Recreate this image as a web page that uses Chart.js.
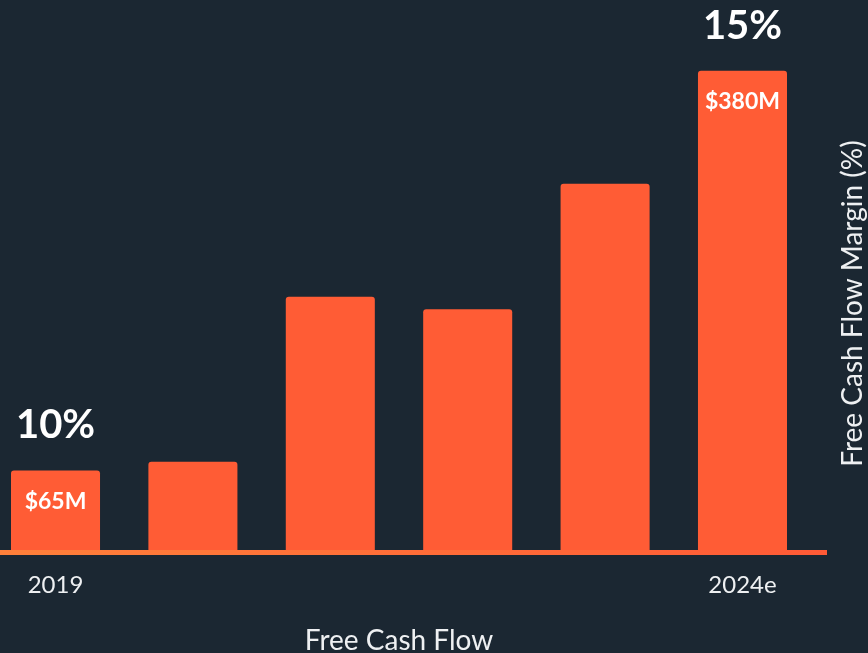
<!DOCTYPE html>
<html>
<head>
<meta charset="utf-8">
<script src="https://cdn.jsdelivr.net/npm/chart.js@4.4.1/dist/chart.umd.min.js"></script>
<style>
  html, body { margin: 0; padding: 0; background: #1b2732; }
  #wrap { width: 868px; height: 653px; }
</style>
</head>
<body>
<div id="wrap"><canvas id="fcf"></canvas></div>
<script>
const years = ['2019', '2020', '2021', '2022', '2023', '2024e'];
const freeCashFlow = [65, 72, 202, 192, 291, 380];   // $M
const fcfMargin = [10, null, null, null, null, 15];  // %
const shownTicks = [0, 5];

const ORANGE = '#ff5c35';
const TEXT = '#eef0f2';
const FONT = 'Lato, "Open Sans", sans-serif';

// baseline under the bars, a little wider than the plot area
const baseline = {
  id: 'baseline',
  afterDatasetsDraw(chart) {
    const { ctx, chartArea, scales } = chart;
    const y = scales.y.getPixelForValue(0) - 0.5;
    const x0 = 0, x1 = chartArea.right + 40;
    const g = ctx.createLinearGradient(x0, 0, x1, 0);
    g.addColorStop(0, '#ff803a');
    g.addColorStop(1, '#ff5a36');
    ctx.save();
    ctx.strokeStyle = g;
    ctx.lineWidth = 5;
    ctx.beginPath();
    ctx.moveTo(x0, y);
    ctx.lineTo(x1, y);
    ctx.stroke();
    ctx.restore();
  }
};

// margin above and FCF value inside the labelled bars
const barLabels = {
  id: 'barLabels',
  afterDatasetsDraw(chart) {
    const { ctx } = chart;
    const bars = chart.getDatasetMeta(0).data;
    ctx.save();
    ctx.fillStyle = '#ffffff';
    ctx.textAlign = 'center';
    ctx.textBaseline = 'middle';
    bars.forEach((bar, i) => {
      if (fcfMargin[i] == null) return;
      ctx.font = 'bold 40px ' + FONT;
      ctx.fillText(fcfMargin[i] + '%', bar.x, bar.y - 45);
      ctx.font = 'bold 23px ' + FONT;
      ctx.fillText('$' + freeCashFlow[i] + 'M', bar.x, bar.y + 31);
    });
    ctx.restore();
  }
};

// right-hand axis caption, reading bottom to top
const marginTitle = {
  id: 'marginTitle',
  afterDraw(chart) {
    const { ctx, chartArea } = chart;
    ctx.save();
    ctx.translate(chart.width - 15, (chartArea.top + chartArea.bottom) / 2 + 17);
    ctx.rotate(-Math.PI / 2);
    ctx.fillStyle = TEXT;
    ctx.font = '28px ' + FONT;
    ctx.textAlign = 'center';
    ctx.textBaseline = 'middle';
    ctx.fillText('Free Cash Flow Margin (%)', 0, 0);
    ctx.restore();
  }
};

new Chart(document.getElementById('fcf'), {
  type: 'bar',
  data: {
    datasets: [{
      label: 'Free Cash Flow',
      data: freeCashFlow.map((v, i) => ({ x: i, y: v })),
      backgroundColor: ORANGE,
      borderRadius: 3,
      borderSkipped: 'start',
      categoryPercentage: 0.648,
      barPercentage: 1
    }]
  },
  options: {
    responsive: true,
    maintainAspectRatio: false,
    animation: false,
    layout: { padding: { left: 11, right: 81, top: 20, bottom: 0 } },
    plugins: { legend: { display: false }, tooltip: { enabled: false } },
    scales: {
      x: {
        type: 'linear',
        offset: false,
        min: -0.324,
        max: 5.324,
        grid: { display: false, drawTicks: false },
        border: { display: false },
        afterBuildTicks: s => { s.ticks = shownTicks.map(v => ({ value: v })); },
        afterFit: s => { s.height = 100; },
        ticks: {
          padding: 18,
          color: TEXT,
          font: { family: FONT, size: 24 },
          maxRotation: 0,
          autoSkip: false,
          callback: v => years[v]
        },
        title: {
          display: true,
          text: 'Free Cash Flow',
          color: TEXT,
          font: { family: FONT, size: 28, lineHeight: 0.85 },
          padding: { top: 0, bottom: 0 }
        }
      },
      y: {
        display: false,
        min: 0,
        max: 420
      }
    }
  },
  plugins: [baseline, barLabels, marginTitle]
});
</script>
</body>
</html>
